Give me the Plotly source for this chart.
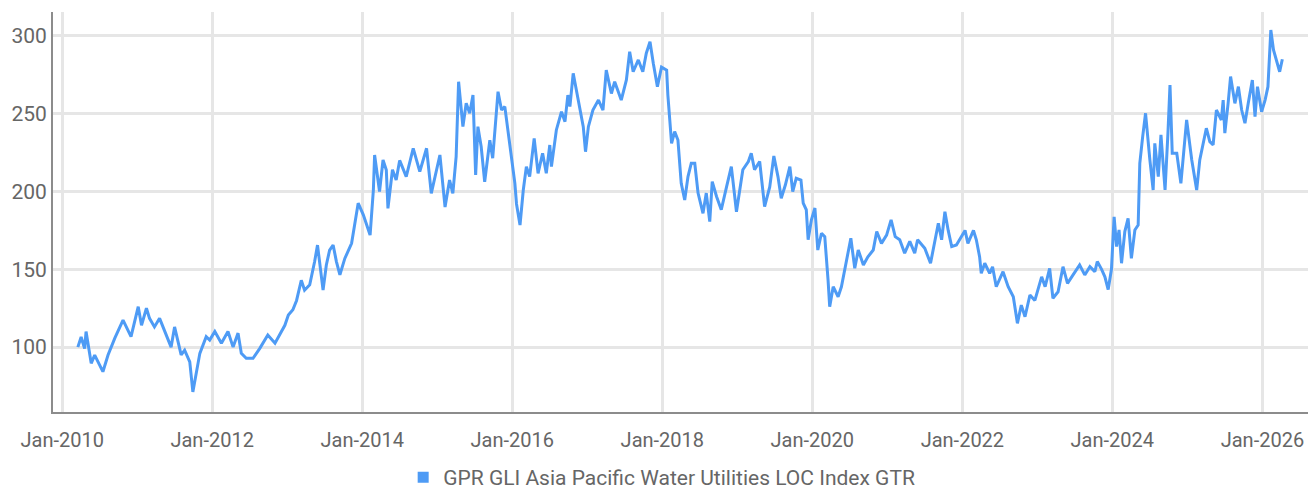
import plotly.graph_objects as go

series_name = "GPR GLI Asia Pacific Water Utilities LOC Index GTR"

dates = [
    "2010-03-18", "2010-04-03", "2010-04-20", "2010-04-27", "2010-05-22", "2010-06-08", "2010-07-18", "2010-08-12",
    "2010-09-14", "2010-10-24", "2010-12-02", "2011-01-06", "2011-01-22", "2011-02-15", "2011-03-02", "2011-03-26",
    "2011-04-20", "2011-05-14", "2011-06-15", "2011-07-02", "2011-08-03", "2011-08-20", "2011-09-14", "2011-09-29",
    "2011-10-15", "2011-11-02", "2011-12-03", "2011-12-20", "2012-01-14", "2012-02-15", "2012-03-18", "2012-04-12",
    "2012-05-06", "2012-05-22", "2012-06-15", "2012-07-18", "2012-08-20", "2012-09-28", "2012-11-02", "2012-11-26",
    "2012-12-20", "2013-01-06", "2013-01-28", "2013-02-15", "2013-03-10", "2013-03-26", "2013-04-20", "2013-05-14",
    "2013-05-28", "2013-06-24", "2013-07-10", "2013-07-26", "2013-08-12", "2013-08-28", "2013-09-14", "2013-10-08",
    "2013-11-10", "2013-11-26", "2013-12-12", "2014-01-06", "2014-02-08", "2014-02-24", "2014-03-02", "2014-03-26",
    "2014-04-12", "2014-04-28", "2014-05-06", "2014-05-28", "2014-06-15", "2014-07-02", "2014-08-03", "2014-09-06",
    "2014-10-08", "2014-11-10", "2014-12-03", "2015-01-14", "2015-02-08", "2015-03-02", "2015-03-18", "2015-04-03",
    "2015-04-15", "2015-05-06", "2015-05-22", "2015-06-08", "2015-06-24", "2015-07-07", "2015-07-18", "2015-08-03",
    "2015-08-20", "2015-09-14", "2015-09-28", "2015-10-24", "2015-11-10", "2015-11-26", "2015-12-12", "2015-12-28",
    "2016-01-14", "2016-01-22", "2016-02-08", "2016-02-24", "2016-03-10", "2016-03-26", "2016-04-17", "2016-05-06",
    "2016-05-28", "2016-06-15", "2016-07-02", "2016-07-10", "2016-08-03", "2016-08-28", "2016-09-14", "2016-09-28",
    "2016-10-08", "2016-10-24", "2016-11-10", "2016-11-26", "2016-12-12", "2016-12-23", "2017-01-06", "2017-01-28",
    "2017-02-24", "2017-03-18", "2017-04-03", "2017-04-28", "2017-05-14", "2017-06-15", "2017-07-10", "2017-07-26",
    "2017-08-12", "2017-09-06", "2017-09-28", "2017-10-15", "2017-11-02", "2017-11-18", "2017-12-08", "2017-12-28",
    "2018-01-22", "2018-01-28", "2018-02-15", "2018-03-02", "2018-03-18", "2018-04-03", "2018-04-20", "2018-05-06",
    "2018-05-22", "2018-06-08", "2018-06-24", "2018-07-18", "2018-08-03", "2018-08-20", "2018-09-01", "2018-09-22",
    "2018-10-15", "2018-11-10", "2018-12-03", "2018-12-28", "2019-01-28", "2019-02-24", "2019-03-10", "2019-03-26",
    "2019-04-20", "2019-05-14", "2019-06-08", "2019-06-28", "2019-07-18", "2019-08-03", "2019-08-23", "2019-09-14",
    "2019-09-28", "2019-10-15", "2019-11-07", "2019-11-18", "2019-12-03", "2019-12-12", "2019-12-28", "2020-01-14",
    "2020-01-28", "2020-02-15", "2020-03-02", "2020-03-18", "2020-03-26", "2020-04-12", "2020-05-06", "2020-05-22",
    "2020-06-15", "2020-07-07", "2020-07-26", "2020-08-12", "2020-09-06", "2020-09-28", "2020-10-24", "2020-11-10",
    "2020-12-03", "2020-12-28", "2021-01-19", "2021-02-08", "2021-03-02", "2021-03-26", "2021-04-20", "2021-05-14",
    "2021-05-28", "2021-07-02", "2021-07-30", "2021-08-20", "2021-09-06", "2021-09-22", "2021-10-08", "2021-10-24",
    "2021-11-10", "2021-12-03", "2021-12-28", "2022-01-14", "2022-01-28", "2022-02-24", "2022-03-10", "2022-03-26",
    "2022-04-03", "2022-04-20", "2022-05-14", "2022-05-28", "2022-06-15", "2022-07-18", "2022-08-12", "2022-09-06",
    "2022-09-26", "2022-10-15", "2022-11-02", "2022-11-26", "2022-12-20", "2023-01-22", "2023-02-08", "2023-03-02",
    "2023-03-18", "2023-04-12", "2023-05-06", "2023-05-28", "2023-06-24", "2023-07-26", "2023-08-20", "2023-09-14",
    "2023-10-08", "2023-10-20", "2023-11-10", "2023-11-26", "2023-12-12", "2023-12-28", "2024-01-10", "2024-01-22",
    "2024-02-03", "2024-02-15", "2024-03-02", "2024-03-18", "2024-04-03", "2024-04-20", "2024-05-06", "2024-05-14",
    "2024-05-28", "2024-06-11", "2024-07-02", "2024-07-18", "2024-07-26", "2024-08-12", "2024-08-25", "2024-09-14",
    "2024-09-28", "2024-10-08", "2024-10-19", "2024-11-10", "2024-11-30", "2024-12-28", "2025-01-22", "2025-02-15",
    "2025-03-02", "2025-03-26", "2025-04-03", "2025-04-20", "2025-05-06", "2025-05-22", "2025-06-15", "2025-06-24",
    "2025-07-02", "2025-07-18", "2025-07-30", "2025-08-20", "2025-09-06", "2025-09-22", "2025-10-08", "2025-10-24",
    "2025-11-13", "2025-11-26", "2025-12-08", "2025-12-28", "2026-01-14", "2026-01-28", "2026-02-11", "2026-02-24",
    "2026-03-10", "2026-03-26", "2026-04-08",
]

values = [
    100.0, 106.5, 99.0, 110.0, 89.6, 94.9, 84.2, 94.9,
    105.8, 117.4, 106.7, 126.0, 114.0, 125.0, 118.5, 113.0,
    118.5, 111.0, 100.0, 113.0, 95.0, 98.0, 90.5, 71.2,
    82.0, 96.0, 106.7, 104.5, 110.0, 102.5, 110.0, 100.0,
    109.0, 96.0, 92.8, 92.8, 99.2, 107.8, 102.5, 107.8,
    114.0, 120.7, 124.0, 130.0, 143.0, 136.6, 140.0, 155.0,
    165.6, 136.6, 152.8, 162.4, 165.6, 155.0, 146.5, 157.0,
    166.7, 179.6, 192.5, 185.0, 172.0, 201.0, 223.5, 200.0,
    220.3, 213.9, 189.2, 214.0, 207.4, 220.0, 209.6, 227.8,
    212.8, 227.8, 198.8, 223.5, 190.0, 207.4, 198.8, 222.4,
    270.6, 241.7, 256.7, 250.3, 262.0, 210.6, 241.7, 228.8,
    206.3, 233.0, 221.4, 264.2, 252.4, 254.6, 239.6, 222.4,
    205.3, 192.0, 178.5, 201.0, 216.0, 209.6, 234.2, 211.7,
    224.6, 211.7, 229.9, 216.0, 239.6, 251.3, 244.9, 262.0,
    254.6, 276.0, 264.2, 252.4, 241.7, 225.6, 241.7, 252.4,
    258.8, 252.4, 278.0, 263.0, 270.6, 258.8, 271.7, 289.9,
    277.0, 284.6, 277.0, 288.9, 296.3, 282.4, 267.4, 280.0,
    278.0, 262.0, 231.0, 238.5, 233.1, 205.3, 194.6, 209.6,
    218.2, 218.2, 199.0, 186.0, 199.0, 180.7, 206.4, 196.8,
    188.3, 203.2, 216.0, 187.0, 214.0, 219.3, 224.6, 214.0,
    219.3, 190.3, 203.0, 222.8, 209.6, 195.7, 204.2, 216.0,
    200.0, 208.5, 207.4, 192.5, 188.3, 169.0, 181.8, 189.4,
    162.4, 173.2, 171.0, 143.0, 126.0, 138.8, 132.4, 138.8,
    156.0, 170.0, 150.7, 162.4, 152.8, 158.0, 162.4, 174.3,
    166.7, 172.0, 181.8, 171.0, 169.0, 160.4, 168.0, 160.4,
    169.0, 163.5, 153.9, 169.0, 179.6, 169.0, 187.0, 175.0,
    164.6, 165.7, 171.0, 175.0, 166.7, 175.0, 169.0, 158.0,
    147.4, 153.9, 147.4, 151.6, 138.8, 148.5, 138.8, 132.4,
    115.3, 127.0, 119.5, 133.5, 130.0, 145.2, 138.8, 150.6,
    131.4, 135.6, 151.7, 141.0, 146.4, 152.8, 146.4, 151.7,
    148.5, 155.0, 150.0, 145.2, 137.0, 150.0, 183.8, 164.6,
    175.3, 153.9, 174.3, 182.8, 157.0, 175.3, 178.5, 218.2,
    235.3, 250.3, 220.3, 201.0, 231.0, 209.6, 236.4, 201.0,
    237.5, 268.5, 224.6, 224.6, 205.3, 246.0, 220.3, 201.0,
    220.3, 235.3, 240.7, 232.1, 230.0, 252.4, 246.0, 258.8,
    237.5, 256.7, 273.9, 256.7, 267.4, 252.4, 243.9, 256.7,
    271.7, 248.2, 267.4, 251.3, 258.8, 267.4, 303.8, 291.0,
    284.6, 277.0, 285.0,
]

y_ticks = [100, 150, 200, 250, 300]

line_color = "#4E9BF5"
text_color = "#666666"
grid_color = "#E6E6E6"
font_family = "Roboto, 'Noto Sans', sans-serif"

fig = go.Figure()
fig.add_trace(go.Scatter(
    x=dates, y=values, mode="lines", name=series_name,
    line=dict(color=line_color, width=3), showlegend=False,
))
fig.add_trace(go.Scatter(
    x=[None], y=[None], mode="markers", name=series_name,
    marker=dict(symbol="square", size=11, color=line_color),
    showlegend=True,
))

fig.update_layout(
    width=1309, height=492,
    margin=dict(l=53, r=1, t=12, b=80, autoexpand=False),
    paper_bgcolor="white", plot_bgcolor="white",
    font=dict(family=font_family, color=text_color, size=20),
    legend=dict(
        orientation="h", x=0.485, xanchor="center", y=-0.215, yanchor="bottom",
        font=dict(size=21, color=text_color),
        itemwidth=30,
    ),
    xaxis=dict(
        type="date", automargin=False,
        range=["2009-11-17", "2026-08-11"],
        tick0="2010-01-01", dtick="M24", tickformat="%b-%Y",
        showgrid=True, gridcolor=grid_color, gridwidth=2.5,
        showline=True, linecolor="#8C8C8C", linewidth=2,
        ticks="outside", ticklen=9, tickcolor="rgba(0,0,0,0)",
        tickfont=dict(size=20, color=text_color),
        zeroline=False,
    ),
    yaxis=dict(
        automargin=False,
        range=[58.3, 315.4],
        tickvals=y_ticks,
        showgrid=True, gridcolor=grid_color, gridwidth=2.5,
        showline=True, linecolor="#8C8C8C", linewidth=2,
        ticks="", tickfont=dict(size=21, color=text_color),
        zeroline=False,
    ),
)

fig.write_html(
    "out.html",
    config={"displayModeBar": False},
    post_script="document.body.style.margin='0';document.body.style.padding='0';",
)
